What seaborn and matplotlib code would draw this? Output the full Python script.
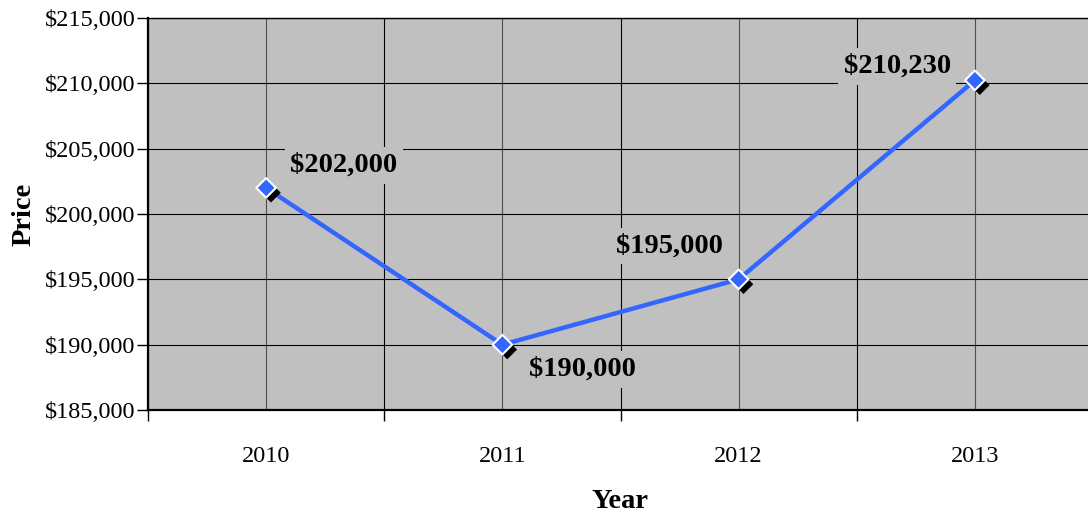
import matplotlib
matplotlib.use("Agg")
import matplotlib.pyplot as plt
import matplotlib.patheffects as pe
from matplotlib.ticker import FuncFormatter, FixedLocator
import seaborn as sns
import pandas as pd

years = ["2010", "2011", "2012", "2013"]
prices = [202000, 190000, 195000, 210230]
labels = ["$202,000", "$190,000", "$195,000", "$210,230"]
label_offsets = [(56, 16), (58, -18), (-50, 24), (-56, 10)]

sns.set_theme(style="white")
plt.rcParams["font.family"] = ["Liberation Serif", "DejaVu Serif"]
plt.rcParams["text.color"] = "black"
plt.rcParams["xtick.color"] = "black"
plt.rcParams["ytick.color"] = "black"
plt.rcParams["axes.labelcolor"] = "black"

df = pd.DataFrame({"Year": years, "Price": prices, "x": range(len(years))})

fig = plt.figure(figsize=(10.88, 5.14), dpi=100)
ax = fig.add_axes([148 / 1088, 1 - 410 / 514, 945 / 1088, 392 / 514])
ax.set_facecolor("#C0C0C0")

sns.lineplot(data=df, x="x", y="Price", ax=ax, color="#3366FF", linewidth=3.2, zorder=3)
sns.scatterplot(data=df, x="x", y="Price", ax=ax, marker="D", s=100,
                color="#3366FF", edgecolor="white", linewidth=1.5, zorder=4)
ax.collections[-1].set_path_effects([
    pe.SimplePatchShadow(offset=(3.5, -3.5), shadow_rgbFace="black", alpha=1.0),
    pe.Normal()])

for i, (lab, off) in enumerate(zip(labels, label_offsets)):
    ax.annotate(lab, (i, prices[i]), xytext=off, textcoords="offset points",
                ha="center", va="center", fontsize=20.5, fontweight="bold",
                color="black", zorder=5,
                bbox=dict(boxstyle="square,pad=0.2", fc="#C0C0C0", ec="none"))

ax.set_xlim(-0.5, 3.5)
ax.set_ylim(185000, 215000)
ax.yaxis.set_major_locator(FixedLocator(range(185000, 215001, 5000)))
ax.yaxis.set_major_formatter(FuncFormatter(lambda v, p: f"${v:,.0f}"))
ax.set_xticks(range(len(years)))
ax.set_xticklabels(years)
ax.set_xticks([-0.5, 0.5, 1.5, 2.5, 3.5], minor=True)

ax.grid(True, which="major", axis="y", color="black", linewidth=0.8)
ax.grid(True, which="major", axis="x", color="#505050", linewidth=0.8)
ax.grid(True, which="minor", axis="x", color="black", linewidth=0.8)
ax.set_axisbelow(True)

ax.tick_params(axis="x", which="major", length=0, pad=26, labelsize=17.5)
ax.tick_params(axis="x", which="minor", length=8, width=1, color="black", direction="out", bottom=True)
ax.tick_params(axis="y", which="major", length=8, width=1, color="black", direction="out", left=True, labelsize=17.5, pad=1)

for side in ["left", "bottom"]:
    ax.spines[side].set_visible(True)
    ax.spines[side].set_color("black")
    ax.spines[side].set_linewidth(1.6)
ax.spines["top"].set_visible(True)
ax.spines["top"].set_color("black")
ax.spines["top"].set_linewidth(1.0)
ax.spines["right"].set_visible(False)

ax.set_xlabel("Year", fontsize=20.5, fontweight="bold", labelpad=16)
ax.set_ylabel("Price", fontsize=20.5, fontweight="bold", labelpad=6)

fig.savefig("out.png", dpi=100)
